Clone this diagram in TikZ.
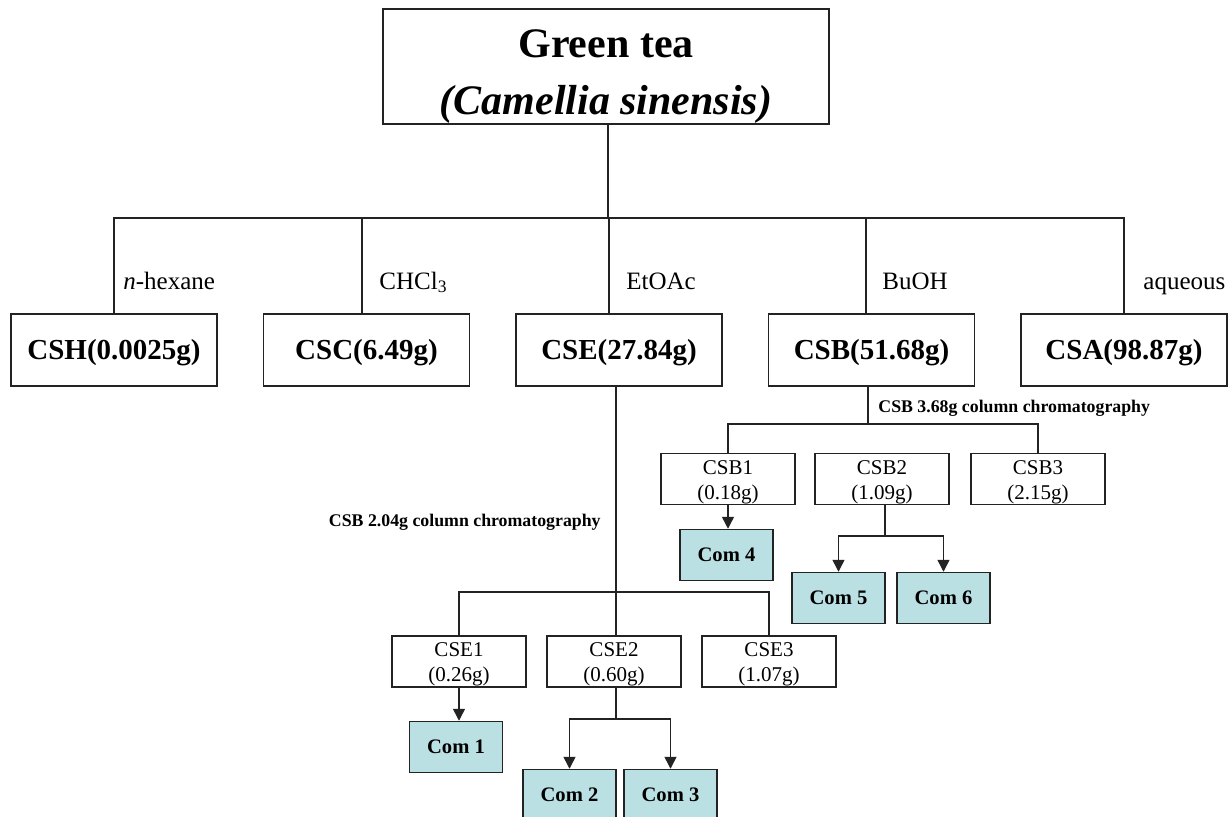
\documentclass[tikz,border=0pt]{standalone}
\usepackage{fontspec}
\setmainfont{Liberation Serif}
\usetikzlibrary{arrows.meta}

\definecolor{comfill}{RGB}{187,224,227}
\definecolor{linegray}{RGB}{35,35,35}

\tikzset{
  link/.style={draw=linegray, line width=0.75pt},
  feed/.style={link, -{Triangle[length=6pt,width=6pt]}},
  planttext/.style={yshift=-5pt, inner sep=0pt, align=center,
    font=\fontsize{21}{28.5}\selectfont\bfseries},
  plant/.style={link, minimum width=223pt, minimum height=57.5pt,
    label={[planttext]center:#1}},
  fraction/.style={link, minimum width=103pt, minimum height=36pt, inner sep=0pt,
    text height=11pt, text depth=2pt, font=\fontsize{14.5}{17}\selectfont\bfseries},
  subtext/.style={yshift=-1.5pt, inner sep=0pt, align=center,
    font=\fontsize{10.5}{12.5}\selectfont},
  subfraction/.style={link, minimum width=67pt, minimum height=25.5pt,
    label={[subtext]center:#1}},
  compound/.style={link, fill=comfill, minimum width=46.5pt, minimum height=25.5pt,
    inner sep=0pt, font=\fontsize{10.3}{12}\selectfont\bfseries},
  solvent/.style={anchor=base west, inner sep=0pt, font=\fontsize{12.5}{15}\selectfont},
  method/.style={inner sep=0pt, font=\fontsize{8.9}{10}\selectfont\bfseries}
}

\begin{document}
\begin{tikzpicture}[x=0.5pt,y=-0.5pt]
  \useasboundingbox (0,0) rectangle (1228,816);
  % plant material
  \node[plant={Green tea\\{\itshape (Camellia sinensis)}}] (tea) at (606,66.5) {};
  % solvent partition
  \node[fraction] (CSH) at (114,350) {CSH(0.0025g)};
  \node[fraction] (CSC) at (366.5,350) {CSC(6.49g)};
  \node[fraction] (CSE) at (619,350) {CSE(27.84g)};
  \node[fraction] (CSB) at (871.5,350) {CSB(51.68g)};
  \node[fraction] (CSA) at (1124,350) {CSA(98.87g)};
  \node[solvent] at (123,289) {\textit{n}-hexane};
  \node[solvent] at (379,289) {CHCl\textsubscript{3}};
  \node[solvent] at (626,289) {EtOAc};
  \node[solvent] at (882,289) {BuOH};
  \node[solvent] at (1143,289) {aqueous};
  \coordinate (split) at (608,218);
  \draw[link] (tea.south -| split) -- (split);
  \draw[link] (CSH.north) |- (split);
  \draw[link] ([xshift=-2.25pt]CSC.north) |- (split);
  \draw[link] ([xshift=-5pt]CSE.north) |- (split);
  \draw[link] ([xshift=-2.75pt]CSB.north) |- (split);
  \draw[link] (CSA.north) |- (split);
  % EtOAc column
  \node[subfraction={CSE1\\(0.26g)}] (CSE1) at (459,661.5) {};
  \node[subfraction={CSE2\\(0.60g)}] (CSE2) at (614,661.5) {};
  \node[subfraction={CSE3\\(1.07g)}] (CSE3) at (769,661.5) {};
  \node[method, anchor=east] at (601,522) {CSB 2.04g column chromatography};
  \coordinate (esplit) at (616,592);
  \draw[link] ([xshift=-1.5pt]CSE.south) -- ([xshift=1pt]CSE2.north);
  \draw[link] (CSE1.north) |- (esplit) -| (CSE3.north);
  \node[compound] (Com1) at (456,747) {Com 1};
  \node[compound] (Com2) at (569.5,795) {Com 2};
  \node[compound] (Com3) at (670.5,795) {Com 3};
  \draw[feed] (CSE1.south) -- (CSE1.south |- Com1.north);
  \coordinate (e2split) at (616,719);
  \draw[link] ([xshift=1pt]CSE2.south) -- (e2split);
  \draw[feed] (e2split) -| (Com2.north);
  \draw[feed] (e2split) -| (Com3.north);
  % BuOH column
  \node[subfraction={CSB1\\(0.18g)}] (CSB1) at (728,479) {};
  \node[subfraction={CSB2\\(1.09g)}] (CSB2) at (882,479) {};
  \node[subfraction={CSB3\\(2.15g)}] (CSB3) at (1038,479) {};
  \node[method, anchor=west] at (878,408) {CSB 3.68g column chromatography};
  \coordinate (bsplit) at (868,424);
  \draw[link] ([xshift=-1.75pt]CSB.south) -- (bsplit);
  \draw[link] (CSB1.north) |- (bsplit) -| (CSB3.north);
  \node[compound] (Com4) at (726.5,555) {Com 4};
  \node[compound] (Com5) at (838.5,598) {Com 5};
  \node[compound] (Com6) at (943.5,598) {Com 6};
  \draw[feed] (CSB1.south) -- (CSB1.south |- Com4.north);
  \coordinate (b2split) at (885,536);
  \draw[link] ([xshift=1.5pt]CSB2.south) -- (b2split);
  \draw[feed] (b2split) -| (Com5.north);
  \draw[feed] (b2split) -| (Com6.north);
\end{tikzpicture}
\end{document}
